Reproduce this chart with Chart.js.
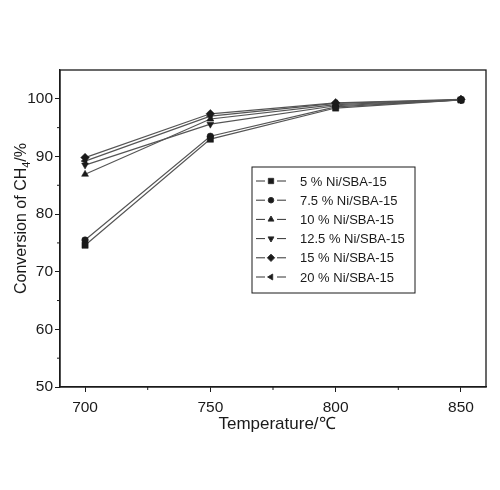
<!DOCTYPE html>
<html>
<head>
<meta charset="utf-8">
<script src="https://cdn.jsdelivr.net/npm/chart.js@4"></script>
<style>
  html, body { margin: 0; padding: 0; background: #fff; }
  #wrap { width: 500px; height: 490px; position: relative; }
</style>
</head>
<body>
<div id="wrap"><canvas id="c"></canvas></div>
<script>
"use strict";

// temperature (°C) and CH4 conversion (%) per catalyst
const temps   = [700, 750, 800, 850];
const ni5     = [74.6, 93.0, 98.4, 99.8];
const ni75    = [75.5, 93.5, 98.6, 99.8];
const ni10    = [86.9, 96.5, 99.0, 99.8];
const ni125   = [88.5, 95.6, 98.8, 99.8];
const ni15    = [89.8, 97.4, 99.3, 99.9];
const ni20    = [89.2, 97.0, 99.2, 99.8];
const labels  = ["5 % Ni/SBA-15", "7.5 % Ni/SBA-15", "10 % Ni/SBA-15", "12.5 % Ni/SBA-15", "15 % Ni/SBA-15", "20 % Ni/SBA-15"];

const xMajor = [700, 750, 800, 850];
const xMinor = [725, 775, 825];
const yMajor = [50, 60, 70, 80, 90, 100];
const yMinor = [55, 65, 75, 85, 95];

const FONT = "Arial, 'Liberation Sans', sans-serif";
const INK  = "#1a1a1a";

const markers = [
  { style: "rect",     rot: 0,   r: 4.4 },
  { style: "circle",   rot: 0,   r: 3.3 },
  { style: "triangle", rot: 0,   r: 4.0 },
  { style: "triangle", rot: 180, r: 4.0 },
  { style: "rectRot",  rot: 0,   r: 4.3 },
  { style: "triangle", rot: -90, r: 4.0 },
];

const series = [ni5, ni75, ni10, ni125, ni15, ni20];

const datasets = series.map((vals, i) => ({
  label: labels[i],
  data: vals.map((v, j) => ({ x: temps[j], y: v })),
  borderColor: "#555",
  borderWidth: 1.2,
  backgroundColor: INK,
  pointBackgroundColor: INK,
  pointBorderColor: INK,
  pointStyle: markers[i].style,
  pointRotation: markers[i].rot,
  pointRadius: markers[i].r,
  pointBorderWidth: 0.5,
  tension: 0,
}));

// frame, minor ticks, axis titles and the boxed legend
const decor = {
  id: "decor",
  afterDraw(chart) {
    const { ctx, chartArea: a, scales } = chart;
    ctx.save();
    ctx.strokeStyle = INK;
    ctx.lineWidth = 1.3;
    ctx.strokeRect(a.left, a.top, a.right - a.left, a.bottom - a.top);

    ctx.lineWidth = 1;
    ctx.beginPath();
    yMinor.forEach(v => {
      const y = scales.y.getPixelForValue(v);
      ctx.moveTo(a.left - 3, y); ctx.lineTo(a.left, y);
    });
    xMinor.forEach(v => {
      const x = scales.x.getPixelForValue(v);
      ctx.moveTo(x, a.bottom); ctx.lineTo(x, a.bottom + 3);
    });
    ctx.stroke();

    // x title
    ctx.fillStyle = INK;
    ctx.font = "17px " + FONT;
    ctx.textAlign = "center";
    ctx.textBaseline = "middle";
    ctx.fillText("Temperature/\u2103", (a.left + a.right) / 2 + 4, 424);

    // y title with subscript
    ctx.translate(22, (a.top + a.bottom) / 2 - 10);
    ctx.rotate(-Math.PI / 2);
    const p1 = "Conversion of CH", p2 = "4", p3 = "/%";
    ctx.font = "16px " + FONT;
    const w1 = ctx.measureText(p1).width, w3 = ctx.measureText(p3).width;
    ctx.font = "11px " + FONT;
    const w2 = ctx.measureText(p2).width;
    let x0 = -(w1 + w2 + w3) / 2;
    ctx.textAlign = "left";
    ctx.font = "16px " + FONT;
    ctx.fillText(p1, x0, 0);
    ctx.font = "11px " + FONT;
    ctx.fillText(p2, x0 + w1, 5);
    ctx.font = "16px " + FONT;
    ctx.fillText(p3, x0 + w1 + w2, 0);
    ctx.restore();

    // legend box
    ctx.save();
    const bx = 252, by = 167, bw = 163, bh = 126;
    ctx.strokeStyle = INK;
    ctx.lineWidth = 1;
    ctx.strokeRect(bx, by, bw, bh);
    chart.data.datasets.forEach((ds, i) => {
      const y = 181 + i * 19.2;
      ctx.strokeStyle = "#333";
      ctx.lineWidth = 1;
      ctx.beginPath();
      ctx.moveTo(256, y); ctx.lineTo(265, y);
      ctx.moveTo(277, y); ctx.lineTo(286, y);
      ctx.stroke();
      ctx.fillStyle = INK;
      Chart.helpers.drawPoint(ctx, {
        pointStyle: ds.pointStyle,
        rotation: ds.pointRotation,
        radius: ds.pointRadius * 0.85,
        borderWidth: 0.5,
      }, 271, y);
      ctx.font = "13px " + FONT;
      ctx.textAlign = "left";
      ctx.textBaseline = "middle";
      ctx.fillStyle = INK;
      ctx.fillText(ds.label, 300, y + 1);
    });
    ctx.restore();
  },
};

new Chart(document.getElementById("c"), {
  type: "line",
  data: { datasets },
  options: {
    responsive: true,
    maintainAspectRatio: false,
    animation: false,
    layout: { padding: { top: 70, right: 14, bottom: 43, left: 0 } },
    plugins: { legend: { display: false }, tooltip: { enabled: false } },
    scales: {
      x: {
        type: "linear",
        min: 690,
        max: 860,
        afterBuildTicks: s => { s.ticks = xMajor.map(v => ({ value: v })); },
        afterFit: s => { s.height = 60; },
        grid: { display: true, drawOnChartArea: false, tickLength: 5, color: INK, tickWidth: 1 },
        border: { display: true, color: INK, width: 1.3 },
        ticks: { color: INK, font: { size: 15.5, family: FONT }, padding: 6, maxRotation: 0 },
      },
      y: {
        type: "linear",
        min: 50,
        max: 105,
        afterBuildTicks: s => { s.ticks = yMajor.map(v => ({ value: v })); },
        afterFit: s => { s.width = 60; },
        grid: { display: true, drawOnChartArea: false, tickLength: 5, color: INK, tickWidth: 1 },
        border: { display: true, color: INK, width: 1.3 },
        ticks: { color: INK, font: { size: 15.5, family: FONT }, padding: 2 },
      },
    },
  },
  plugins: [decor],
});
</script>
</body>
</html>
